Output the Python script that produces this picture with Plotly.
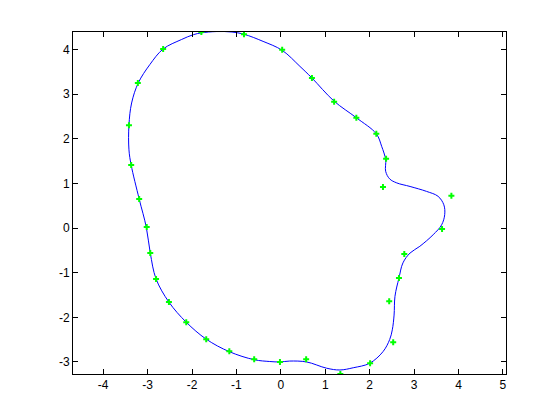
import plotly.graph_objects as go

# data points (green markers)
pts_x = [-1.79, -0.83, 0.03, 0.70, 1.20, 1.70, 2.15, 2.37, 2.30, 3.84, 3.63, 2.78,
         2.66, 2.44, 2.53, 2.01, 1.34, 0.57, -0.02, -0.60, -1.16, -1.68, -2.13, -2.52,
         -2.81, -2.94, -3.02, -3.19, -3.37, -3.42, -3.22, -2.65]
pts_y = [4.39, 4.34, 3.99, 3.36, 2.83, 2.47, 2.11, 1.55, 0.92, 0.72, -0.02, -0.58,
         -1.12, -1.64, -2.56, -3.03, -3.27, -2.94, -3.00, -2.94, -2.76, -2.49, -2.11, -1.66,
         -1.14, -0.56, 0.02, 0.65, 1.41, 2.30, 3.25, 4.01]

# fitted closed curve (blue line)
curve_x = [-0.83, -0.40, 0.03, 0.43, 0.70, 1.20, 1.70, 2.15, 2.27, 2.36, 2.36, 2.45,
           2.61, 2.91, 3.28, 3.54, 3.67, 3.69, 3.62, 3.43, 3.13, 2.91, 2.75, 2.66,
           2.57, 2.55, 2.51, 2.45, 2.30, 2.00, 1.63, 1.33, 1.03, 0.58, 0.20, -0.02,
           -0.25, -0.60, -1.16, -1.68, -2.13, -2.52, -2.81, -2.94, -3.03, -3.19,
           -3.37, -3.42, -3.42, -3.36, -3.21, -2.95, -2.65, -2.24, -1.97, -1.79,
           -1.45, -1.10, -0.83]
curve_y = [4.34, 4.18, 3.98, 3.62, 3.36, 2.84, 2.47, 2.11, 1.83, 1.53, 1.27, 1.10,
           1.01, 0.93, 0.82, 0.71, 0.52, 0.30, 0.07, -0.15, -0.41, -0.56, -0.78, -1.12,
           -1.53, -1.95, -2.28, -2.50, -2.77, -3.03, -3.13, -3.18, -3.14, -3.00, -2.98, -3.00,
           -2.99, -2.95, -2.77, -2.49, -2.11, -1.66, -1.14, -0.56, 0.02, 0.65,
           1.41, 1.75, 2.31, 2.80, 3.25, 3.66, 4.01, 4.22, 4.33, 4.37,
           4.40, 4.39, 4.34]

x_ticks = [-4, -3, -2, -1, 0, 1, 2, 3, 4, 5]
y_ticks = [-3, -2, -1, 0, 1, 2, 3, 4]

fig = go.Figure()
fig.add_trace(go.Scatter(x=curve_x, y=curve_y, mode="lines",
                         line=dict(color="#0000FF", width=1, shape="spline", smoothing=1.0),
                         showlegend=False, hoverinfo="skip"))
fig.add_trace(go.Scatter(x=pts_x, y=pts_y, mode="markers",
                         marker=dict(symbol="cross", size=5, color="#00FF00",
                                     line=dict(width=0)),
                         showlegend=False))

axis_common = dict(showgrid=False, zeroline=False, showline=True, linecolor="black",
                   linewidth=1, mirror="ticks", ticks="inside", ticklen=5,
                   tickcolor="black", tickfont=dict(family="Liberation Sans, Arial",
                                                    size=12, color="black"))
fig.update_xaxes(range=[-4.68, 5.07], tickvals=x_ticks,
                 ticktext=[str(t) for t in x_ticks], **axis_common)
fig.update_yaxes(range=[-3.27, 4.39], tickvals=y_ticks,
                 ticktext=[str(t) for t in y_ticks], **axis_common)
fig.update_layout(width=552, height=412, plot_bgcolor="white", paper_bgcolor="white",
                  margin=dict(l=65, r=54, t=24, b=46, autoexpand=False))
fig.write_html("out.html")
